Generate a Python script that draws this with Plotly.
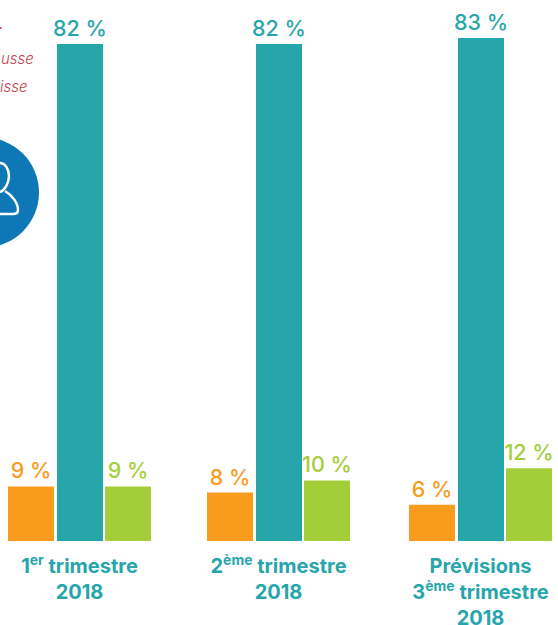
import plotly.graph_objects as go

quarters = ["1<sup>er</sup> trimestre<br>2018", "2<sup>ème</sup> trimestre<br>2018", "Prévisions<br>3<sup>ème</sup> trimestre<br>2018"]
hausse = [9, 8, 6]
stable = [82, 82, 83]
baisse = [9, 10, 12]
legend_fragments = ["usse", "isse"]

ORANGE, TEAL, GREEN = "#F99B1C", "#26A5AB", "#A3CE39"
group_x = [79.5, 278.5, 480.5]
BAR_W = 46
series = [(hausse, ORANGE, -71.5), (stable, TEAL, -22.5), (baisse, GREEN, 25.5)]
FONT = "Inter"
PLOT_H = 541


def py(p):
    return 1 - p / PLOT_H


fig = go.Figure()
for vals, col, off in series:
    fig.add_trace(go.Bar(
        x=group_x, y=vals, width=BAR_W, offset=off,
        marker=dict(color=col, line=dict(width=0)),
        text=[f"{v} %" for v in vals], textposition="outside", cliponaxis=False, constraintext="none",
        textfont=dict(family=FONT, size=21.5, color=col, weight=500),
        hoverinfo="skip", showlegend=False,
    ))

fig.add_shape(type="circle", xref="x", yref="paper", x0=-71, x1=39, y0=py(247.5), y1=py(137.5),
              fillcolor="#0D78B5", line_width=0, layer="below")
icon = (f"M 0 {py(163)} C 5 {py(163)} 9 {py(169)} 9 {py(176)} C 9 {py(183)} 5 {py(190)} 0 {py(192)} "
        f"M 5 {py(191)} C 12 {py(195)} 18 {py(203)} 18 {py(210)} C 18 {py(213)} 16 {py(214)} 13 {py(214)} L 0 {py(214)}")
fig.add_shape(type="path", xref="x", yref="paper", path=icon, line=dict(color="white", width=2.5))
fig.add_shape(type="rect", xref="x", yref="paper", x0=0, x1=1.5, y0=py(29), y1=py(27),
              fillcolor="#D9434E", line_width=0)

for txt, xpx, ypx in zip(legend_fragments, [35.5, 29.5], [58, 86]):
    fig.add_annotation(text=txt, xref="x", yref="paper", x=xpx, y=py(ypx), xanchor="right", yanchor="middle",
                       showarrow=False,
                       font=dict(family=FONT, size=15, color="#C2454F", style="italic", weight=300))

fig.update_layout(
    width=558, height=625, margin=dict(l=0, r=0, t=0, b=84),
    paper_bgcolor="white", plot_bgcolor="white", barmode="overlay",
    xaxis=dict(range=[0, 558], tickvals=group_x, ticktext=quarters, showgrid=False, zeroline=False, showline=False,
               ticks="", ticklen=0, tickangle=0, ticklabelstandoff=11, automargin=False,
               tickfont=dict(family=FONT, size=20, color=TEAL, weight=700)),
    yaxis=dict(range=[0, 89.27], visible=False, fixedrange=True, automargin=False),
)
fig.write_html("out.html", config={"displayModeBar": False},
               post_script="document.body.style.margin='0';document.documentElement.style.overflow='hidden';")
